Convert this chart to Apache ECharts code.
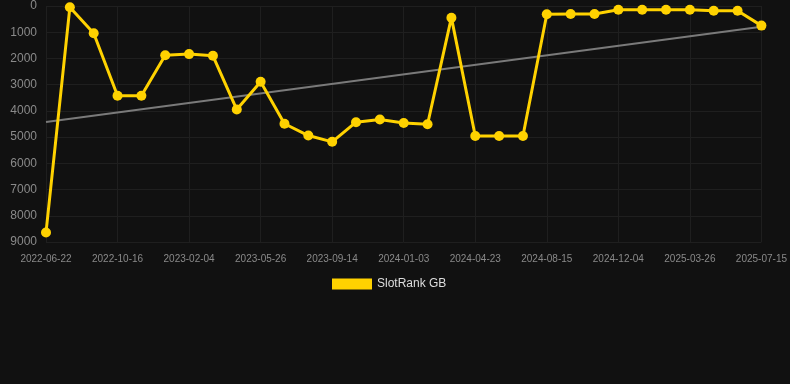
<!DOCTYPE html>
<html>
<head>
<meta charset="utf-8">
<script src="https://cdn.jsdelivr.net/npm/echarts@6/dist/echarts.min.js"></script>
<style>
  html, body { margin: 0; padding: 0; background: #111111; }
  #chart { width: 790px; height: 384px; }
</style>
</head>
<body>
<div id="chart"></div>
<script>
const dates = [
  '2022-06-22', '2022-07-31', '2022-09-07', '2022-10-16', '2022-11-22', '2022-12-29',
  '2023-02-04', '2023-03-13', '2023-04-19', '2023-05-26', '2023-07-02', '2023-08-08',
  '2023-09-14', '2023-10-21', '2023-11-27', '2024-01-03', '2024-02-09', '2024-03-17',
  '2024-04-23', '2024-05-31', '2024-07-08', '2024-08-15', '2024-09-21', '2024-10-28',
  '2024-12-04', '2025-01-10', '2025-02-17', '2025-03-26', '2025-05-02', '2025-06-08',
  '2025-07-15'
];

const rankGB = [
  8640, 50, 1040, 3420, 3420, 1875, 1835, 1900, 3950, 2890, 4490,
  4940, 5180, 4430, 4330, 4460, 4510, 445, 4960, 4960, 4960,
  316, 305, 305, 140, 140, 140, 140, 178, 178, 748
];

// trend line end points (first and last date)
const trendValues = [4420, 790];

const labelColor = '#8a8a8a';
const gridColor = '#1f1f1f';

const chart = echarts.init(document.getElementById('chart'));

chart.setOption({
  backgroundColor: '#111111',
  animation: false,
  grid: {
    left: 46,
    right: 28,
    top: 6,
    bottom: 142
  },
  xAxis: {
    type: 'category',
    data: dates,
    boundaryGap: false,
    axisLine: { show: false },
    axisTick: { show: false },
    axisLabel: {
      interval: 2,
      color: labelColor,
      fontSize: 10,
      fontFamily: 'Arial, Liberation Sans, sans-serif',
      margin: 12
    },
    splitLine: {
      show: true,
      interval: 2,
      lineStyle: { color: gridColor, width: 1 }
    }
  },
  yAxis: {
    type: 'value',
    inverse: true,
    min: 0,
    max: 9000,
    interval: 1000,
    axisLine: { show: false },
    axisTick: { show: false },
    axisLabel: {
      color: labelColor,
      fontSize: 12,
      fontFamily: 'Arial, Liberation Sans, sans-serif',
      margin: 9,
      formatter: value => String(value)
    },
    splitLine: {
      lineStyle: { color: gridColor, width: 1 }
    }
  },
  legend: {
    data: ['SlotRank GB'],
    top: 273,
    left: 327,
    icon: 'rect',
    itemWidth: 40,
    itemHeight: 11,
    textStyle: {
      color: '#dddddd',
      fontSize: 12,
      fontFamily: 'Arial, Liberation Sans, sans-serif'
    }
  },
  series: [
    {
      name: 'Trend',
      type: 'line',
      data: [[dates[0], trendValues[0]], [dates[dates.length - 1], trendValues[1]]],
      symbol: 'none',
      lineStyle: { color: '#7a7a7a', width: 2 },
      z: 1
    },
    {
      name: 'SlotRank GB',
      type: 'line',
      data: rankGB,
      symbol: 'circle',
      symbolSize: 10,
      itemStyle: { color: '#ffd200' },
      lineStyle: { color: '#ffd200', width: 3 },
      z: 2
    }
  ]
});
</script>
</body>
</html>
